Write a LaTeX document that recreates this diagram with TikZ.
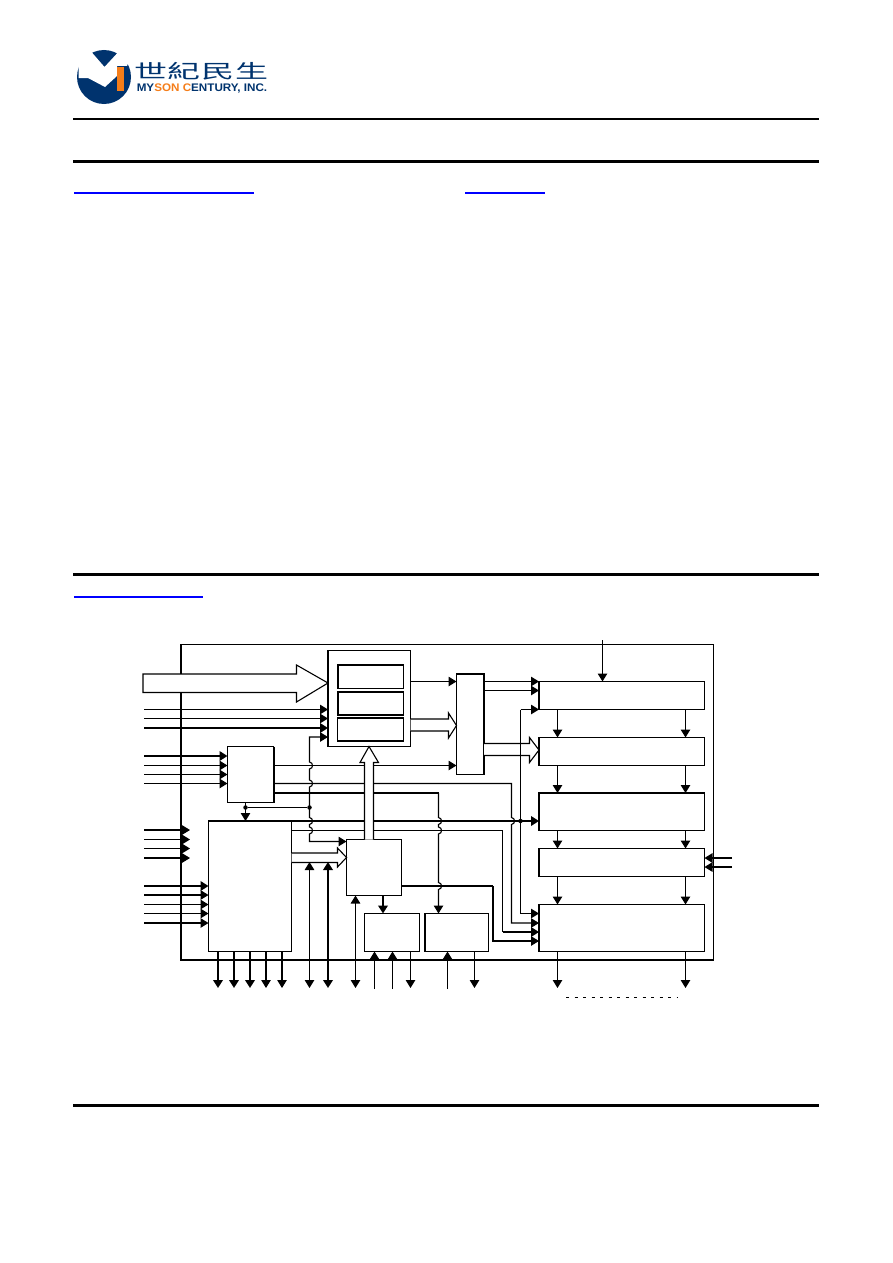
\documentclass[tikz,border=0pt]{standalone}
\usepackage{fontspec}
\setsansfont{Liberation Sans}
\newfontfamily\cjkfont{Noto Sans CJK TC}
\usetikzlibrary{arrows.meta}
\definecolor{logoblue}{RGB}{0,51,110}
\definecolor{logoorange}{RGB}{245,125,25}
\tikzset{
  blk/.style={draw, line width=1.1pt, inner sep=0pt, outer sep=0pt, anchor=north west},
  sig/.style={line width=1.1pt, -{Triangle[length=8pt,width=9.5pt]}},
  sigboth/.style={line width=1.1pt, {Triangle[length=8pt,width=9.5pt]}-{Triangle[length=8pt,width=9.5pt]}},
  bus/.style={line width=2pt},
  hollow/.style={draw, line width=1.1pt, fill=white},
  dot/.style={circle, fill, inner sep=0pt, minimum size=4.5pt},
  rule/.style={line width=#1},
  link/.style={draw=blue, line width=2pt}
}
\begin{document}
\begin{tikzpicture}[x=1pt,y=-1pt]
      \useasboundingbox (0,0) rectangle (892,1263);

      \fill[logoblue] (104,77) circle (27);
      \fill[white] (78.5,64) -- (76,48) -- (88,48) -- (104.5,67) -- (122,48) -- (134,48) -- (127,66) -- (117,66)
        -- (117,76) -- (105,87) -- (88,78) -- (78.5,78) -- cycle;
      \fill[logoorange] (116.5,67) rectangle (124,91);
      \node[inner sep=0pt, yscale=0.58, text=logoblue] (logoCn) at (201.5,71)
        {\fontsize{33}{33}\selectfont\cjkfont 世\hspace{1pt}紀\hspace{1pt}民\hspace{1pt}生};
      \node[inner sep=0pt, xscale=1.06, text=logoblue] (logoEn) at (202,89)
        {\fontsize{11}{11}\selectfont\sffamily\bfseries MY\textcolor{logoorange}{SON} \textcolor{logoorange}{C}ENTURY, INC.};

      \draw[rule=2pt] (73,119) -- (819,119);
      \draw[rule=3pt] (73,161) -- (819,161);
      \draw[rule=3pt] (73,574.5) -- (819,574.5);
      \draw[rule=3pt] (73,1105.5) -- (819,1105.5);
      \draw[link] (74,193) -- (254,193);
      \draw[link] (465,193) -- (545,193);
      \draw[link] (74,597) -- (203,597);

      \coordinate (pinLeft) at (144,0);
      \coordinate (pinRight) at (732,0);
      \coordinate (pinTop) at (0,640);
      \coordinate (pinBot) at (0,988);
      \coordinate (pinFree) at (0,989);
      \coordinate (pinGate) at (190,0);

      \node[blk, minimum width=532.5, minimum height=315.5] (chip) at (181,644.5) {};
      \node[blk, line width=1.7pt, minimum width=82.5, minimum height=96] (bufA) at (328,650.5) {};
      \node[blk, minimum width=66, minimum height=23.5] (bufA1) at (337.5,665) {};
      \node[blk, minimum width=66, minimum height=23.5] (bufA2) at (337.5,691.5) {};
      \node[blk, minimum width=66, minimum height=23] (bufA3) at (337.5,718) {};
      \node[blk, minimum width=46, minimum height=56] (dec) at (227.5,746.5) {};
      \node[blk, minimum width=83, minimum height=130.5] (ctrl) at (208.5,821) {};
      \node[blk, minimum width=55, minimum height=56] (core) at (346.5,839.5) {};
      \node[blk, minimum width=55, minimum height=38] (memA) at (364.5,913.5) {};
      \node[blk, minimum width=63.5, minimum height=38] (memB) at (425,913.5) {};
      \node[blk, minimum width=27.5, minimum height=100.5] (mux) at (456.5,674) {};
      \node[blk, minimum width=165.5, minimum height=28] (stA) at (539,681.5) {};
      \node[blk, minimum width=165.5, minimum height=28] (stB) at (539,737.5) {};
      \node[blk, minimum width=165.5, minimum height=37.5] (stC) at (539,793) {};
      \node[blk, minimum width=165.5, minimum height=28] (stD) at (539,848.5) {};
      \node[blk, minimum width=165.5, minimum height=47] (stE) at (539,904.5) {};

      \draw[bus] (dec.north east) -- (dec.south east);
      \draw[bus] (ctrl.north west) -- (ctrl.north east);
      \draw[bus] (mux.north east) -- (mux.south east);
      \draw[bus] (memB.north west) -- (memB.south west);
      \draw[bus] (bufA1.north west) -- (bufA1.south west);
      \draw[bus] (bufA2.north west) -- (bufA2.north east);
      \draw[bus] (bufA2.north west) -- (bufA2.south west);
      \draw[bus] (stA.north west) -- (stA.south west);
      \draw[bus] (stC.north west) -- (stC.south west);
      \draw[bus] (stC.north west) -- (stC.north east);
      \draw[bus] (stD.north west) -- (stD.south west);
      \draw[bus] (stE.north west) -- (stE.south west);

      \draw[hollow] (143,674) -- (296.5,674) -- (296.5,665) -- (bufA.west |- 0,683)
        -- (296.5,702) -- (296.5,692.5) -- (143,692.5) -- cycle;

      \foreach \y in {709.5,718.5} \path[sig, draw] (pinLeft |- 0,\y) -- (bufA.west |- 0,\y);
      \draw[sig, line width=2pt] (pinLeft |- 0,728) -- (bufA.west |- 0,728);
      \draw[sig, line width=2pt] (pinLeft |- 0,756) -- (dec.west |- 0,756);
      \foreach \y in {765.5,774.5,783.5} \path[sig, draw] (pinLeft |- 0,\y) -- (dec.west |- 0,\y);
      \foreach \y in {830,839.5,848.5,858} \path[sig, draw] (pinLeft |- 0,\y) -- (pinGate |- 0,\y);
      \draw[sig, line width=2pt] (pinLeft |- 0,886) -- (ctrl.west |- 0,886);
      \foreach \y in {895,904.5,913.5,923} \path[sig, draw] (pinLeft |- 0,\y) -- (ctrl.west |- 0,\y);

      \draw[sig] (dec.east |- 0,765.5) -- (mux.west |- 0,765.5);
      \draw[sig] (dec.east |- 0,783.5) -- (511.5,783.5) -- (511.5,817.5)
        .. controls (515.5,818) and (515.5,824) .. (511.5,824.5)
        -- (511.5,923) -- (stE.west |- 0,923);
      \draw[bus] (dec.east |- 0,793) -- (438.5,793);
      \draw[bus, -{Triangle[length=8pt,width=9.5pt]}] (ctrl.north east) -- (stC.west |- 0,821);
      \draw[line width=1.1pt] (ctrl.east |- 0,830.5) -- (502.5,830.5) -- (502.5,932);
      \draw[bus, -{Triangle[length=8pt,width=9.5pt]}] (502.5,932) -- (stE.west |- 0,932);
      \draw[bus] (core.east |- 0,886) -- (493,886);
      \draw[sig] (493,886) -- (493,941) -- (stE.west |- 0,941);

      \draw[sig] (438.5,793) foreach \y in {821,830.5,886}
        { -- (438.5,\y-3.5) .. controls (442.5,\y-3) and (442.5,\y+3) .. (438.5,\y+3.5) }
        -- (memB.north -| 438.5,0);
      \draw[sig] (dec.south -| 245.5,0) -- (ctrl.north -| 245.5,0);
      \node[dot] (tapA) at (245.5,807.5) {};
      \node[dot] (tapB) at (309.5,807.5) {};
      \draw[line width=1.1pt] (tapA) -- (tapB);
      \draw[{Triangle[length=8pt,width=9.5pt]}-{Triangle[length=8pt,width=9.5pt]}, line width=1.1pt]
        (bufA.west |- 0,737) -- (309.5,737) foreach \y in {765.5,783.5,821,830.5}
        { -- (309.5,\y-3.5) .. controls (313.5,\y-3) and (313.5,\y+3) .. (309.5,\y+3.5) }
        -- (309.5,841.5) -- (core.west |- 0,841.5);

      \draw[sig] (bufA.east |- 0,681.5) -- (mux.west |- 0,681.5);
      \draw[sig] (mux.east |- 0,681.5) -- (stA.west |- 0,681.5);
      \draw[sig] (mux.east |- 0,690.5) -- (stA.west |- 0,690.5);
      \draw[hollow] (bufA.east |- 0,719) -- (448.5,719) -- (448.5,713) -- (mux.west |- 0,725.5)
        -- (448.5,738) -- (448.5,731) -- (bufA.east |- 0,731);
      \draw[hollow] (mux.east |- 0,743.5) -- (529.5,743.5) -- (529.5,737.5) -- (stB.west |- 0,750)
        -- (529.5,762.5) -- (529.5,755.5) -- (mux.east |- 0,755.5);
      \draw[hollow] (ctrl.east |- 0,853) -- (337.5,853) -- (337.5,848) -- (core.west |- 0,857.5)
        -- (337.5,867) -- (337.5,862.5) -- (ctrl.east |- 0,862.5);
      \draw[hollow] (core.north -| 364.5,0) -- (364.5,762.5) -- (360,762.5) -- (bufA.south -| 369,0)
        -- (378.5,762.5) -- (373.5,762.5) -- (core.north -| 373.5,0);

      \node[dot] (tapC) at (520.5,821) {};
      \draw[sig] (520.5,709.5) -- (stA.west |- 0,709.5);
      \draw[line width=1.1pt] (520.5,709.5) -- (tapC);
      \draw[sig] (tapC) -- (520.5,913.5) -- (stE.west |- 0,913.5);

      \foreach \x in {218,234,250} \draw[sig, line width=2pt] (ctrl.south -| \x,0) -- (\x,0 |- pinBot);
      \foreach \x in {266,282} \draw[sig] (ctrl.south -| \x,0) -- (\x,0 |- pinBot);
      \draw[sigboth] (309.5,862) -- (309.5,0 |- pinBot);
      \draw[sigboth, line width=2pt] (328,862) -- (328,0 |- pinBot);
      \draw[sigboth] (core.south -| 355.5,0) -- (355.5,0 |- pinBot);
      \draw[sig, line width=2pt] (core.south -| 383,0) -- (memA.north -| 383,0);
      \foreach \x in {374.5,392.5} \draw[sig] (\x,0 |- pinFree) -- (memA.south -| \x,0);
      \draw[sig] (memA.south -| 410.5,0) -- (410.5,0 |- pinBot);
      \draw[sig] (447.5,0 |- pinFree) -- (memB.south -| 447.5,0);
      \draw[sig] (memB.south -| 474.5,0) -- (474.5,0 |- pinBot);

      \draw[sig] (602.5,0 |- pinTop) -- (stA.north -| 602.5,0);
      \foreach \x in {557.5,685.5} {
        \draw[sig] (stA.south -| \x,0) -- (stB.north -| \x,0);
        \draw[sig] (stB.south -| \x,0) -- (stC.north -| \x,0);
        \draw[sig] (stC.south -| \x,0) -- (stD.north -| \x,0);
        \draw[sig] (stD.south -| \x,0) -- (stE.north -| \x,0);
        \draw[sig] (stE.south -| \x,0) -- (\x,0 |- pinBot);
      }
      \draw[sig] (pinRight |- 0,858) -- (stD.east |- 0,858);
      \draw[sig] (pinRight |- 0,867) -- (stD.east |- 0,867);
      \draw[line width=0.8pt, dash pattern=on 3pt off 5.5pt] (566,997) -- (677,997);

    \end{tikzpicture}
\end{document}
